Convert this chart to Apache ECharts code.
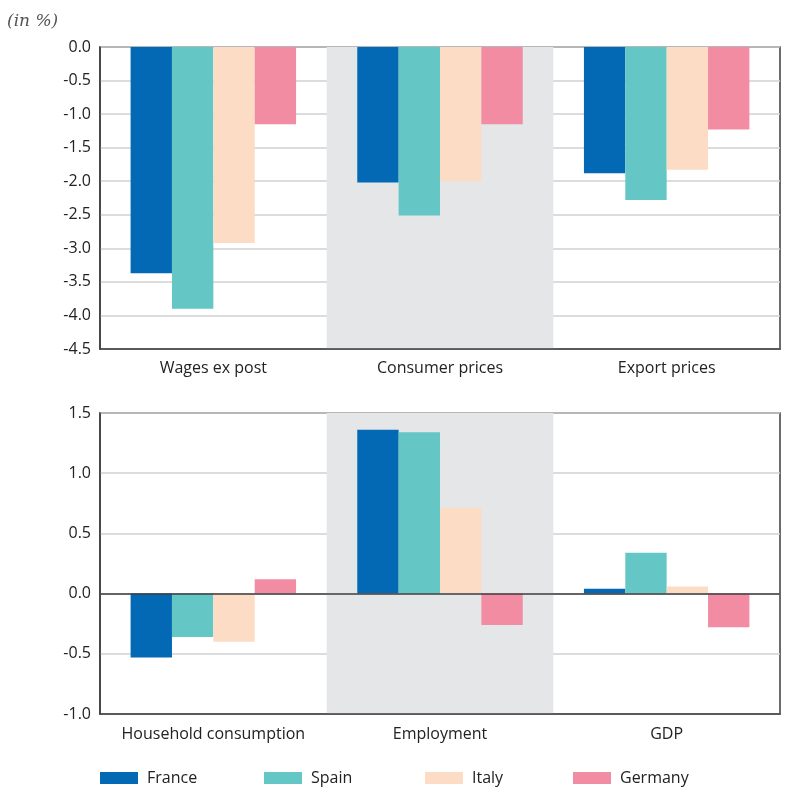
<!DOCTYPE html>
<html>
<head>
<meta charset="utf-8">
<script src="https://cdn.jsdelivr.net/npm/echarts@6/dist/echarts.min.js"></script>
<style>
  html, body { margin: 0; padding: 0; background: #ffffff; }
  #chart { width: 802px; height: 788px; }
</style>
</head>
<body>
<div id="chart"></div>
<script>
// Price and wage effects (top) and real activity effects (bottom), in %
const topCategories = ['Wages ex post', 'Consumer prices', 'Export prices'];
const bottomCategories = ['Household consumption', 'Employment', 'GDP'];
const countries = ['France', 'Spain', 'Italy', 'Germany'];

const franceTop = [-3.37, -2.02, -1.88];
const spainTop = [-3.90, -2.51, -2.28];
const italyTop = [-2.92, -2.00, -1.83];
const germanyTop = [-1.15, -1.15, -1.23];

const franceBottom = [-0.53, 1.36, 0.04];
const spainBottom = [-0.36, 1.34, 0.34];
const italyBottom = [-0.40, 0.71, 0.06];
const germanyBottom = [0.12, -0.26, -0.28];

const topTicks = { min: -4.5, max: 0, interval: 0.5 };
const bottomTicks = { min: -1.0, max: 1.5, interval: 0.5 };

const colors = ['#0469b4', '#65c6c6', '#fcdcc5', '#f28ca2'];
const font = '"Open Sans", Lato, sans-serif';
const frameColor = '#3d3d3f';

function yAxis(gridIndex, ticks) {
  return {
    type: 'value', gridIndex,
    min: ticks.min, max: ticks.max, interval: ticks.interval,
    axisLine: { show: true, lineStyle: { color: frameColor, width: 1.5 } },
    axisTick: { show: false },
    axisLabel: {
      color: '#222', fontFamily: font, fontSize: 16, margin: 9,
      formatter: v => v.toFixed(1)
    },
    splitLine: { show: true, lineStyle: { color: '#cfd0d2', width: 1.5 } }
  };
}

function xAxis(gridIndex, cats, margin) {
  return {
    type: 'category', gridIndex, data: cats,
    position: 'bottom',
    axisLine: { show: true, onZero: false, lineStyle: { color: frameColor, width: 1.5 } },
    axisTick: { show: false },
    axisLabel: { color: '#222', fontFamily: font, fontSize: 16, margin, interval: 0, hideOverlap: false },
    splitArea: { show: true, interval: 0, areaStyle: { color: ['rgba(0,0,0,0)', '#e5e6e8'] } }
  };
}

const topData = [franceTop, spainTop, italyTop, germanyTop];
const bottomData = [franceBottom, spainBottom, italyBottom, germanyBottom];

const series = [];
countries.forEach((name, i) => {
  series.push({
    name, type: 'bar', xAxisIndex: 0, yAxisIndex: 0,
    data: topData[i], barGap: '0%', barCategoryGap: '27%',
    itemStyle: { color: colors[i] }
  });
});
countries.forEach((name, i) => {
  const s = {
    name, type: 'bar', xAxisIndex: 1, yAxisIndex: 1,
    data: bottomData[i], barGap: '0%', barCategoryGap: '27%',
    itemStyle: { color: colors[i] }
  };
  if (i === countries.length - 1) {
    // zero line across the lower panel
    s.markLine = {
      silent: true, symbol: 'none', animation: false,
      label: { show: false },
      lineStyle: { color: frameColor, width: 1.5, type: 'solid' },
      data: [{ yAxis: 0 }]
    };
  }
  series.push(s);
});

// one legend per country so each entry sits at its own column
const legendLefts = [100, 264, 425, 573];
const legends = countries.map((name, i) => ({
  data: [name], left: legendLefts[i], top: 770,
  itemWidth: 38, itemHeight: 12, itemGap: 0, padding: 0,
  icon: 'rect', selectedMode: false,
  textStyle: { color: '#222', fontFamily: font, fontSize: 16, padding: [0, 0, 0, 4] }
}));

const chart = echarts.init(document.getElementById('chart'), null, { renderer: 'canvas' });
chart.setOption({
  animation: false,
  color: colors,
  title: {
    text: '(in %)', left: 2, top: 8,
    textStyle: { fontFamily: '"DejaVu Serif", "Liberation Serif", serif', fontStyle: 'italic', fontWeight: 'normal', fontSize: 17, color: '#555' }
  },
  legend: legends,
  grid: [
    { left: 100, right: 22, top: 47, height: 302, show: true, borderColor: frameColor, borderWidth: 1.5, backgroundColor: 'transparent' },
    { left: 100, right: 22, top: 413, height: 301, show: true, borderColor: frameColor, borderWidth: 1.5, backgroundColor: 'transparent' }
  ],
  xAxis: [xAxis(0, topCategories, 11), xAxis(1, bottomCategories, 12)],
  yAxis: [yAxis(0, topTicks), yAxis(1, bottomTicks)],
  series
});
</script>
</body>
</html>
